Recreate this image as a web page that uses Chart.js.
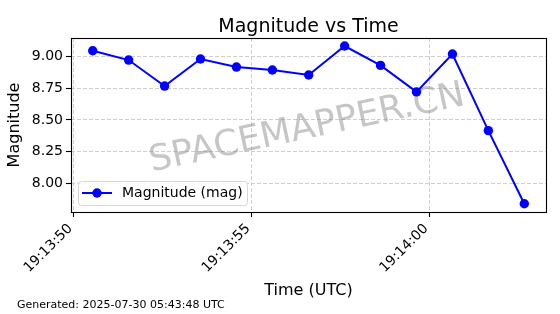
<!DOCTYPE html>
<html>
<head>
<meta charset="utf-8">
<script src="https://cdn.jsdelivr.net/npm/chart.js@4/dist/chart.umd.min.js"></script>
<style>
  html, body { margin: 0; padding: 0; background: #ffffff; }
  #wrap { width: 560px; height: 314px; position: relative; }
</style>
</head>
<body>
<div id="wrap"><canvas id="c" width="560" height="314"></canvas></div>
<script>
// ---- data (seconds after 19:13:00 UTC) ----
const timeSeconds = [50.53, 51.54, 52.55, 53.56, 54.57, 55.58, 56.60, 57.61, 58.62, 59.63, 60.64, 61.65, 62.66];
const magnitudes  = [9.043, 8.970, 8.766, 8.978, 8.915, 8.892, 8.853, 9.080, 8.928, 8.720, 9.017, 8.416, 7.843];
const xTickValues = [50, 55, 60];
const xTickLabels = ['19:13:50', '19:13:55', '19:14:00'];
const yTickValues = [8.00, 8.25, 8.50, 8.75, 9.00];
const yTickLabels = ['8.00', '8.25', '8.50', '8.75', '9.00'];
const seriesLabel = 'Magnitude (mag)';
const chartTitle = 'Magnitude vs Time';
const xAxisTitle = 'Time (UTC)';
const yAxisTitle = 'Magnitude';
const footerText = 'Generated: 2025-07-30 05:43:48 UTC';
const watermarkText = 'SPACEMAPPER.CN';

const FONT = '"DejaVu Sans", sans-serif';
const BLUE = '#0000ff';
const GRID = '#cfcfcf';

const decor = {
  id: 'decor',
  beforeDatasetsDraw(chart) {
    const ctx = chart.ctx;
    // watermark
    ctx.save();
    ctx.translate(307, 129);
    ctx.rotate(-12 * Math.PI / 180);
    ctx.font = '35.8px ' + FONT;
    ctx.fillStyle = 'rgba(128,128,128,0.45)';
    ctx.textAlign = 'center';
    ctx.textBaseline = 'middle';
    ctx.fillText(watermarkText, 0, 0);
    ctx.restore();
  },
  afterDraw(chart) {
    const ctx = chart.ctx;
    const a = chart.chartArea;
    const xs = chart.scales.x;
    const cx = (a.left + a.right) / 2;
    ctx.save();
    // frame
    ctx.strokeStyle = '#000000';
    ctx.lineWidth = 1.1;
    ctx.strokeRect(Math.round(a.left) + 0.5, Math.round(a.top) + 0.5,
                   Math.round(a.right) - Math.round(a.left), Math.round(a.bottom) - Math.round(a.top));
    // rotated x tick labels (matplotlib style: right/top aligned to tick)
    ctx.fillStyle = '#000000';
    ctx.font = '13.8px ' + FONT;
    ctx.textAlign = 'right';
    ctx.textBaseline = 'middle';
    xTickValues.forEach((v, i) => {
      const px = xs.getPixelForValue(v);
      ctx.save();
      ctx.translate(px - 3.5, a.bottom + 14.5);
      ctx.rotate(-Math.PI / 4);
      ctx.fillText(xTickLabels[i], 0, 0);
      ctx.restore();
    });
    // title
    ctx.font = '19px ' + FONT;
    ctx.textAlign = 'center';
    ctx.textBaseline = 'alphabetic';
    ctx.fillText(chartTitle, cx, 31.5);
    // x axis title
    ctx.font = '16px ' + FONT;
    ctx.fillText(xAxisTitle, cx, 295);
    // y axis title
    ctx.save();
    ctx.translate(15, (a.top + a.bottom) / 2);
    ctx.rotate(-Math.PI / 2);
    ctx.textBaseline = 'middle';
    ctx.fillText(yAxisTitle, 0, 0);
    ctx.restore();
    // footer
    ctx.font = '11px ' + FONT;
    ctx.textAlign = 'left';
    ctx.textBaseline = 'middle';
    ctx.fillText(footerText, 17, 305);
    // legend
    const lx = 78, ly = 181, lw = 169, lh = 24;
    ctx.beginPath();
    if (ctx.roundRect) ctx.roundRect(lx + 0.5, ly + 0.5, lw, lh, 3); else ctx.rect(lx + 0.5, ly + 0.5, lw, lh);
    ctx.fillStyle = 'rgba(255,255,255,0.85)';
    ctx.fill();
    ctx.strokeStyle = '#d6d6d6';
    ctx.lineWidth = 1;
    ctx.stroke();
    const my = ly + lh / 2;
    ctx.beginPath();
    ctx.moveTo(82, my);
    ctx.lineTo(112, my);
    ctx.strokeStyle = BLUE;
    ctx.lineWidth = 2;
    ctx.stroke();
    ctx.beginPath();
    ctx.arc(97, my, 4.7, 0, Math.PI * 2);
    ctx.fillStyle = BLUE;
    ctx.fill();
    ctx.fillStyle = '#000000';
    ctx.font = '14px ' + FONT;
    ctx.textAlign = 'left';
    ctx.textBaseline = 'middle';
    ctx.fillText(chart.data.datasets[0].label, 122, my);
    ctx.restore();
  }
};

const points = timeSeconds.map((t, i) => ({ x: t, y: magnitudes[i] }));

new Chart(document.getElementById('c'), {
  type: 'line',
  data: {
    datasets: [{
      label: seriesLabel,
      data: points,
      borderColor: BLUE,
      backgroundColor: BLUE,
      borderWidth: 2,
      pointRadius: 4.7,
      pointHoverRadius: 4.7,
      pointBorderWidth: 0,
      pointBackgroundColor: BLUE,
      tension: 0,
      fill: false
    }]
  },
  options: {
    responsive: false,
    animation: false,
    devicePixelRatio: 1,
    layout: { padding: { left: 0, right: 14, top: 38, bottom: 0 } },
    plugins: {
      legend: { display: false },
      title: { display: false },
      tooltip: { enabled: false }
    },
    scales: {
      x: {
        type: 'linear',
        min: 49.92,
        max: 63.27,
        afterFit(scale) { scale.height = 102; },
        afterBuildTicks(scale) { scale.ticks = xTickValues.map(v => ({ value: v })); },
        grid: {
          color: GRID, lineWidth: 1, drawTicks: true, tickLength: 5,
          tickColor: '#000000', tickWidth: 1.1, tickBorderDash: []
        },
        border: { display: false, dash: [4, 2] },
        ticks: {
          display: false,
          includeBounds: false,
          autoSkip: false,
          minRotation: 0, maxRotation: 0,
          callback(v) { const i = xTickValues.indexOf(v); return i >= 0 ? xTickLabels[i] : ''; }
        }
      },
      y: {
        type: 'linear',
        min: 7.778,
        max: 9.143,
        afterFit(scale) { scale.width = 71; },
        afterBuildTicks(scale) { scale.ticks = yTickValues.map(v => ({ value: v })); },
        grid: {
          color: GRID, lineWidth: 1, drawTicks: true, tickLength: 5,
          tickColor: '#000000', tickWidth: 1.1, tickBorderDash: []
        },
        border: { display: false, dash: [4, 2] },
        ticks: {
          includeBounds: false,
          padding: 3,
          color: '#000000',
          font: { family: FONT, size: 14 },
          callback(v) { const i = yTickValues.indexOf(v); return i >= 0 ? yTickLabels[i] : ''; }
        }
      }
    }
  },
  plugins: [decor]
});
</script>
</body>
</html>
